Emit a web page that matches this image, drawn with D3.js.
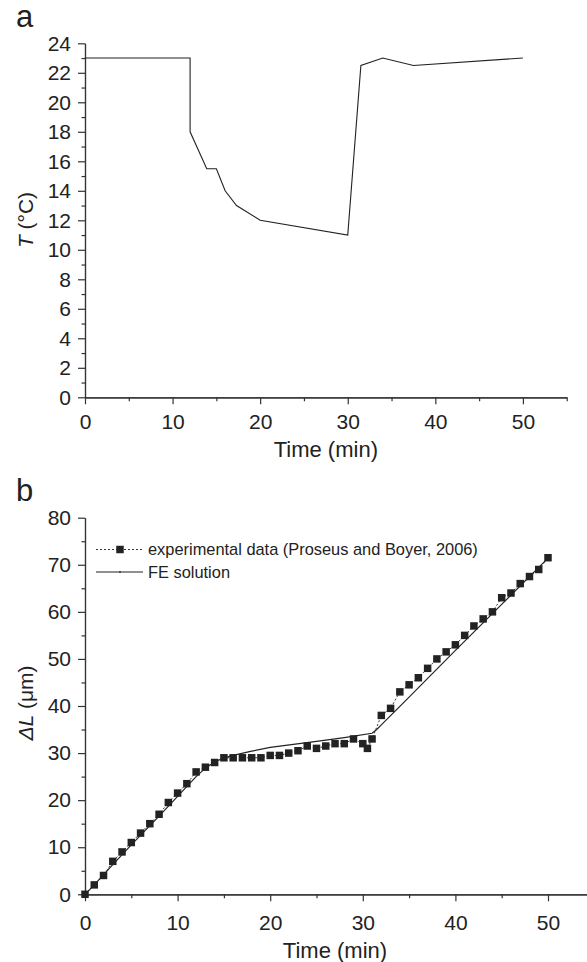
<!DOCTYPE html>
<html>
<head>
<meta charset="utf-8">
<script src="https://cdn.jsdelivr.net/npm/d3@7"></script>
<style>
  html, body { margin: 0; padding: 0; background: #fff; }
  svg { display: block; font-family: "Liberation Sans", Arial, sans-serif; }
  .axis path, .axis line { stroke: #333; stroke-width: 1.2; }
  .axis text { fill: #222; font-size: 21px; }
</style>
</head>
<body>
<script>
"use strict"

// panel a: temperature history
const tempTime = [0, 12, 12, 13.9, 15, 16, 17.3, 20, 30, 31.5, 34, 37.5, 50]
const tempVal = [23, 23, 18, 15.5, 15.5, 14, 13, 12, 11, 22.5, 23, 22.5, 23]

// panel b: elongation, experiment vs FE
const expTime = [0, 1, 2, 3, 4, 5, 6, 7, 8, 9, 10, 11, 12, 13, 14, 15, 16, 17, 18, 19, 20,
   21, 22, 23, 24, 25, 26, 27, 28, 29, 30, 30.5, 31, 32, 33, 34, 35, 36, 37, 38, 39, 40,
   41, 42, 43, 44, 45, 46, 47, 48, 49, 50]
const expVal = [0, 2, 4, 7, 9, 11, 13, 15, 17, 19.5, 21.5, 23.5, 26, 27, 28, 29, 29, 29, 29, 29, 29.5,
   29.5, 30, 30.5, 31.5, 31, 31.5, 32, 32, 33, 32, 31, 33, 38, 39.5, 43, 44.5, 46, 48, 50, 51.5, 53,
   55, 57, 58.5, 60, 63, 64, 66, 67.5, 69, 71.5]
const feTime = [0, 1, 3, 5, 8, 10, 12, 13, 14, 15, 16, 18, 20, 25, 28, 31, 31.5, 32, 35, 40, 45, 50]
const feVal = [0, 2, 6.3, 10.5, 16.6, 20.8, 25, 26.8, 28.1, 29, 29.5, 30.4, 31.2, 32.5, 33.3, 34.2, 35, 36, 41.9, 51.8, 61.6, 71.4]

const xTicks = [0, 10, 20, 30, 40, 50]
const xMinor = [5, 15, 25, 35, 45, 55]
const tTicks = d3.range(0, 25, 2)
const tMinor = d3.range(1, 24, 2)
const lTicks = d3.range(0, 81, 10)
const lMinor = d3.range(5, 80, 10)

const legendLabels = ['experimental data (Proseus and Boyer, 2006)', 'FE solution']

const W = 587, H = 962
const ink = '#222'

const svg = d3.select('body')
   .append('svg')
      .attr('width', W)
      .attr('height', H)

function drawAxes(x, y, yTicks, yMinor, xPad) {
   const g = svg.append('g')
   const yAxis = d3.axisLeft(y).tickValues(yTicks).tickSize(7).tickPadding(7).tickSizeOuter(0)
   const yMin = d3.axisLeft(y).tickValues(yMinor).tickSize(3.5).tickFormat('').tickSizeOuter(0)
   const xAxis = d3.axisBottom(x).tickValues(xTicks).tickSize(7).tickPadding(xPad).tickSizeOuter(0)
   const xMin = d3.axisBottom(x).tickValues(xMinor).tickSize(4).tickFormat('').tickSizeOuter(0)
   const x0 = x.range()[0], y0 = y.range()[0]
   g.append('g').attr('class', 'axis').attr('transform', `translate(${x0},0)`).call(yMin)
   g.append('g').attr('class', 'axis').attr('transform', `translate(${x0},0)`).call(yAxis)
   g.append('g').attr('class', 'axis').attr('transform', `translate(0,${y0})`).call(xMin)
   g.append('g').attr('class', 'axis').attr('transform', `translate(0,${y0})`).call(xAxis)
   g.selectAll('.axis').attr('font-size', null).attr('font-family', null)
   return g
}

// ---- panel a
const xA = d3.scaleLinear([0, 55], [85, 566.7])
const yA = d3.scaleLinear([0, 24], [397.3, 43.3])
drawAxes(xA, yA, tTicks, tMinor, 10)

svg.append('path')
   .datum(tempTime.map((t, i) => [t, tempVal[i]]))
   .attr('fill', 'none')
   .attr('stroke', ink)
   .attr('stroke-width', 1.1)
   .attr('d', d3.line().x(d => xA(d[0])).y(d => yA(d[1])))

svg.append('text')
   .attr('x', 16).attr('y', 27)
   .attr('font-size', 31).attr('fill', ink)
   .text('a')

svg.append('text')
   .attr('x', (xA.range()[0] + xA.range()[1]) / 2).attr('y', 457)
   .attr('text-anchor', 'middle').attr('font-size', 22).attr('fill', ink)
   .text('Time (min)')

svg.append('text')
   .attr('transform', 'translate(33,220) rotate(-90)')
   .attr('text-anchor', 'middle').attr('font-size', 21).attr('fill', ink)
   .html('<tspan font-style="italic">T</tspan> (°C)')

// ---- panel b
const xB = d3.scaleLinear([0, 55], [85, 594.3])
const yB = d3.scaleLinear([0, 80], [894.3, 517.7])
drawAxes(xB, yB, lTicks, lMinor, 14)

const expData = expTime.map((t, i) => [t, expVal[i]])
const feData = feTime.map((t, i) => [t, feVal[i]])
const lineB = d3.line().x(d => xB(d[0])).y(d => yB(d[1]))

svg.append('path')
   .datum(feData)
   .attr('fill', 'none')
   .attr('stroke', ink)
   .attr('stroke-width', 1.2)
   .attr('d', lineB)

svg.append('path')
   .datum(expData)
   .attr('fill', 'none')
   .attr('stroke', ink)
   .attr('stroke-width', 0.9)
   .attr('stroke-dasharray', '2,2')
   .attr('d', lineB)

const square = d3.symbol(d3.symbolSquare, 56)

svg.selectAll('.pt')
   .data(expData)
   .enter()
   .append('path')
      .attr('class', 'pt')
      .attr('transform', d => `translate(${xB(d[0])},${yB(d[1])})`)
      .attr('d', square)
      .attr('fill', ink)

svg.append('text')
   .attr('x', 16).attr('y', 501)
   .attr('font-size', 31).attr('fill', ink)
   .text('b')

svg.append('text')
   .attr('x', xB(27)).attr('y', 958)
   .attr('text-anchor', 'middle').attr('font-size', 22).attr('fill', ink)
   .text('Time (min)')

svg.append('text')
   .attr('transform', 'translate(33,703) rotate(-90)')
   .attr('text-anchor', 'middle').attr('font-size', 21).attr('fill', ink)
   .html('<tspan font-style="italic">ΔL</tspan> (μm)')

// legend
const leg = svg.append('g').attr('transform', 'translate(96,549.5)')
leg.append('line')
   .attr('x1', 0).attr('x2', 47)
   .attr('stroke', ink).attr('stroke-width', 0.9).attr('stroke-dasharray', '2,2')
leg.append('path')
   .attr('transform', 'translate(24,0)')
   .attr('d', square).attr('fill', ink)
leg.append('line')
   .attr('x1', 0).attr('x2', 47).attr('y1', 22.5).attr('y2', 22.5)
   .attr('stroke', ink).attr('stroke-width', 1.2)
leg.append('line')
   .attr('x1', 24).attr('x2', 24).attr('y1', 21.5).attr('y2', 23.5)
   .attr('stroke', ink).attr('stroke-width', 1.2)
leg.selectAll('.lab')
   .data(legendLabels)
   .enter()
   .append('text')
      .attr('class', 'lab')
      .attr('x', 52)
      .attr('y', (d, i) => i * 22.5 + 5.5)
      .attr('font-size', 16.4)
      .attr('fill', ink)
      .text(d => d)
</script>
</body>
</html>
